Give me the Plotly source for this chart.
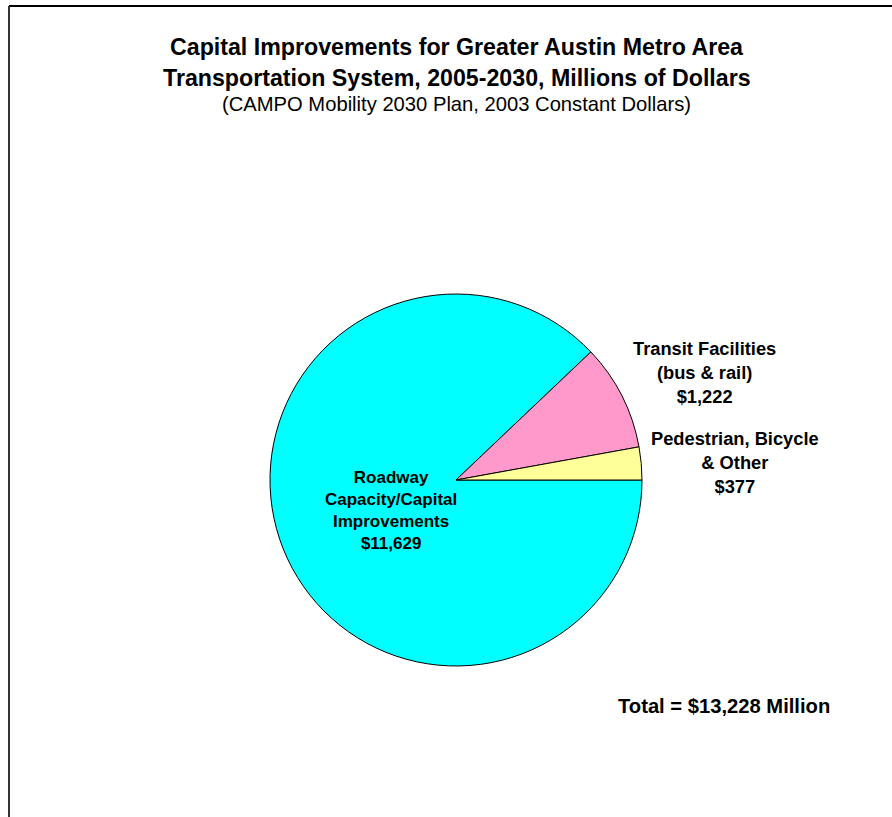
import plotly.graph_objects as go

# Capital improvement categories, CAMPO Mobility 2030 Plan (millions, 2003 dollars)
categories = ["Roadway<br>Capacity/Capital<br>Improvements",
              "Transit Facilities<br>(bus & rail)",
              "Pedestrian, Bicycle<br>& Other"]
values = [11629, 1222, 377]
colors = ["#00FFFF", "#FF99CC", "#FFFF99"]

W, H = 892, 817


def px(x):
    return x / W


def py(y):
    return 1 - y / H


fig = go.Figure(go.Pie(
    labels=categories,
    values=values,
    sort=False,
    direction="clockwise",
    rotation=90,
    marker=dict(colors=colors, line=dict(color="black", width=1)),
    textinfo="none",
    hoverinfo="label+value",
    showlegend=False,
    domain=dict(x=[px(270), px(642)], y=[py(666), py(294)]),
))

font_b = dict(family="Liberation Sans, Arial, sans-serif", color="black")

annotations = []
# title block
annotations.append(dict(x=px(457), y=py(47), text="<b>Capital Improvements for Greater Austin Metro Area</b>",
                        font=dict(size=23.2, **font_b)))
annotations.append(dict(x=px(457), y=py(78), text="<b>Transportation System, 2005-2030, Millions of Dollars</b>",
                        font=dict(size=23.2, **font_b)))
annotations.append(dict(x=px(456), y=py(104), text="(CAMPO Mobility 2030 Plan, 2003 Constant Dollars)",
                        font=dict(size=20.2, **font_b)))

# slice labels, built from the data
label_pos = [(391, 510, 17), (704, 373, 18.3), (735, 462, 18.3)]
for cat, val, (lx, ly, fs) in zip(categories, values, label_pos):
    annotations.append(dict(x=px(lx), y=py(ly), text="<b>" + cat + "<br>$" + f"{val:,}" + "</b>",
                            font=dict(size=fs, **font_b)))

total = sum(values)
annotations.append(dict(x=px(724), y=py(706), text="<b>Total = $" + f"{total:,}" + " Million</b>",
                        font=dict(size=20.2, **font_b)))

for a in annotations:
    a.update(xref="paper", yref="paper", showarrow=False, xanchor="center", yanchor="middle")

fig.update_layout(
    width=W, height=H,
    margin=dict(l=0, r=0, t=0, b=0),
    paper_bgcolor="white",
    plot_bgcolor="white",
    annotations=annotations,
    shapes=[
        dict(type="line", xref="paper", yref="paper", x0=px(9), x1=1, y0=py(6), y1=py(6),
             line=dict(color="black", width=2)),
        dict(type="line", xref="paper", yref="paper", x0=px(9), x1=px(9), y0=py(6), y1=0,
             line=dict(color="#333333", width=2)),
    ],
)

fig.write_html("out.html")
